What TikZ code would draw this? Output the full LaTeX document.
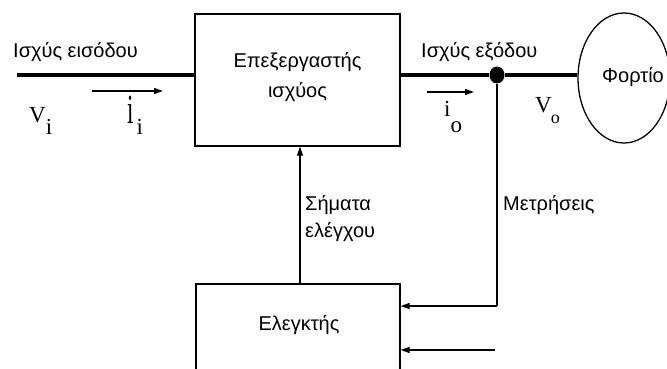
\documentclass[tikz,border=0pt]{standalone}
\usepackage{fontspec}
\setmainfont{Liberation Sans}
\newfontfamily\serifgr{Liberation Serif}
\usetikzlibrary{arrows.meta,shapes.geometric}
\begin{document}
\begin{tikzpicture}[x=1pt,y=-1pt,
  power/.style={line width=4pt},
  thin/.style={line width=1.2pt},
  arr/.style={thin,-{Triangle[length=9pt,width=6pt]}},
  blk/.style={draw,line width=1.3pt,rectangle,inner sep=0pt},
  txt/.style={inner sep=0pt,font=\fontsize{20}{20}\selectfont},
  sym/.style={inner sep=0pt,font=\serifgr\fontsize{23}{23}\selectfont}]
\useasboundingbox (0,0) rectangle (667,369);
\clip (0,0) rectangle (667,369);
% blocks
\node[blk,minimum width=205pt,minimum height=132pt] (proc) at (297.5,80) {};
\node[blk,minimum width=204pt,minimum height=120pt] (ctrl) at (298,344) {};
\node[draw,ellipse,line width=1.3pt,minimum width=92pt,minimum height=130pt,inner sep=0pt] (load) at (624,78) {};
\node[fill,ellipse,minimum width=15pt,minimum height=17pt,inner sep=0pt] (dot) at (497,75) {};
\coordinate (in) at (17,75);
% texts
\node[txt,anchor=base] (pt1) at (297.5,68) {Επεξεργαστής};
\node[txt,anchor=base] (pt2) at (297.5,97) {ισχύος};
\node[txt,anchor=base] (ct) at (299,330) {Ελεγκτής};
\node[txt,anchor=base] (lt) at (633,83) {Φορτίο};
\node[txt,anchor=base west] (pin) at (13,58) {Ισχύς εισόδου};
\node[txt,anchor=base west] (pout) at (421,58) {Ισχύς εξόδου};
\node[txt,anchor=base west] (s1) at (305,210) {Σήματα};
\node[txt,anchor=base west] (s2) at (305,237) {ελέγχου};
\node[txt,anchor=base west] (meas) at (503,210) {Μετρήσεις};
% symbols
\node[sym,anchor=base west] (vi) at (29,122) {V\raisebox{-13pt}{i}};
\node[sym,anchor=base west] (ii) at (127,123) {\scalebox{1}[1.8]{i}\hspace{3pt}\raisebox{-12pt}{i}};
\node[sym,anchor=base west] (io) at (444,117) {i\raisebox{-16pt}{o}};
\node[sym,anchor=base west] (vo) at (535,113) {V\kern-1pt\raisebox{-10pt}{\fontsize{18}{18}\selectfont o}};
% power lines
\draw[power] (in) -- (in -| proc.west);
\draw[power] (proc.east |- dot) -- (dot) -- (dot -| load.west);
% current arrows
\coordinate (ia1) at (92,91);
\coordinate (ia2) at (163,91);
\coordinate (oa1) at (427,92);
\coordinate (oa2) at (474,92);
\draw[arr] (ia1) -- (ia2);
\draw[arr] (oa1) -- (oa2);
% control signal
\draw[arr] (ctrl.north -| 300,0) -- (proc.south -| 300,0);
% measurement feedback
\coordinate (fb) at (497,306);
\draw[thin] (dot) -- (fb);
\draw[arr] (fb) -- (fb -| ctrl.east);
\coordinate (ref) at (495,350);
\draw[arr] (ref) -- (ref -| ctrl.east);
\end{tikzpicture}
\end{document}
